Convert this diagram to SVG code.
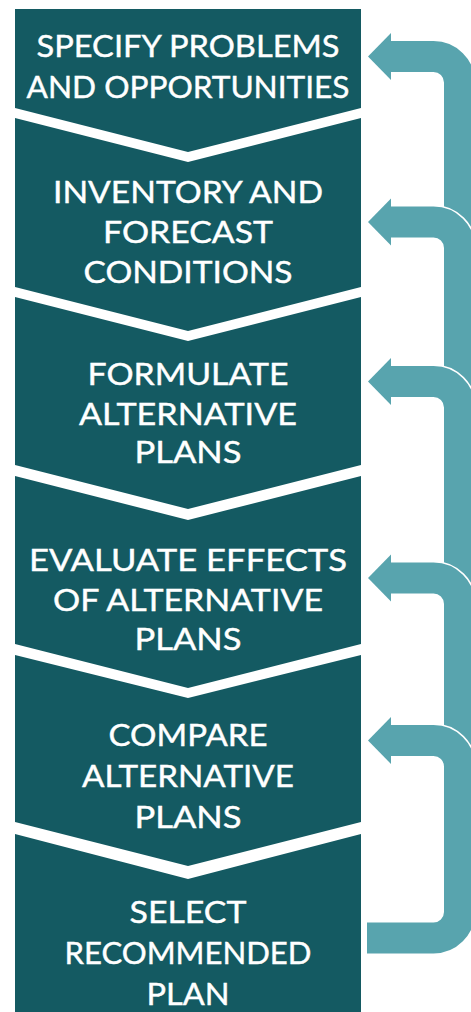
<svg xmlns="http://www.w3.org/2000/svg" width="471" height="1012" viewBox="0 0 471 1012">
  <style>
    .box { fill: #145a62; }
    .lbl { fill: #ffffff; stroke: #ffffff; stroke-width: 0.4; font-family: "Lato", "Liberation Sans", sans-serif; font-size: 30px; text-anchor: middle; }
    .halo { fill: none; stroke: #ffffff; stroke-width: 34; }
    .shaft { fill: none; stroke: #58a4ae; stroke-width: 31; }
    .head { fill: #58a4ae; }
  </style>
  <rect width="471" height="1012" fill="#ffffff"/>

  <g id="connectors">
    <g id="arrow1">
      <path class="halo" d="M390 56.5 H433.5 A26 26 0 0 1 459.5 82.5 V262"/>
      <path class="shaft" d="M390 56.5 H433.5 A26 26 0 0 1 459.5 82.5 V262"/>
      <polygon class="head" points="368,56.5 391,33 391,80"/>
    </g>
    <g id="arrow2">
      <path class="halo" d="M390 222 H433.5 A26 26 0 0 1 459.5 248 V422"/>
      <path class="shaft" d="M390 222 H433.5 A26 26 0 0 1 459.5 248 V422"/>
      <polygon class="head" points="368,222 391,198.5 391,245.5"/>
    </g>
    <g id="arrow3">
      <path class="halo" d="M390 381.5 H433.5 A26 26 0 0 1 459.5 407.5 V618"/>
      <path class="shaft" d="M390 381.5 H433.5 A26 26 0 0 1 459.5 407.5 V618"/>
      <polygon class="head" points="368,381.5 391,358 391,405"/>
    </g>
    <g id="arrow4">
      <path class="halo" d="M390 578 H433.5 A26 26 0 0 1 459.5 604 V780"/>
      <path class="shaft" d="M390 578 H433.5 A26 26 0 0 1 459.5 604 V780"/>
      <polygon class="head" points="368,578 391,554.5 391,601.5"/>
    </g>
    <g id="arrow5">
      <path class="halo" d="M390 740.5 H433.5 A26 26 0 0 1 459.5 766.5 V912 A26 26 0 0 1 433.5 938 H367"/>
      <path class="shaft" d="M390 740.5 H433.5 A26 26 0 0 1 459.5 766.5 V912 A26 26 0 0 1 433.5 938 H367"/>
      <polygon class="head" points="368,740.5 391,717 391,764"/>
    </g>
  </g>

  <g id="step1">
    <polygon class="box" points="15,9 361,9 361,108 188,152 15,108"/>
    <text class="lbl" x="188" y="57" textLength="303" lengthAdjust="spacingAndGlyphs">SPECIFY PROBLEMS</text>
    <text class="lbl" x="188" y="98" textLength="323" lengthAdjust="spacingAndGlyphs">AND OPPORTUNITIES</text>
  </g>
  <g id="step2">
    <polygon class="box" points="15,118 188,162 361,118 361,287 188,331 15,287"/>
    <text class="lbl" x="188" y="203" textLength="270" lengthAdjust="spacingAndGlyphs">INVENTORY AND</text>
    <text class="lbl" x="188" y="243" textLength="170" lengthAdjust="spacingAndGlyphs">FORECAST</text>
    <text class="lbl" x="188" y="283" textLength="209" lengthAdjust="spacingAndGlyphs">CONDITIONS</text>
  </g>
  <g id="step3">
    <polygon class="box" points="15,297 188,341 361,297 361,465 188,509 15,465"/>
    <text class="lbl" x="188" y="385" textLength="201" lengthAdjust="spacingAndGlyphs">FORMULATE</text>
    <text class="lbl" x="188" y="425" textLength="218" lengthAdjust="spacingAndGlyphs">ALTERNATIVE</text>
    <text class="lbl" x="188" y="463" textLength="107" lengthAdjust="spacingAndGlyphs">PLANS</text>
  </g>
  <g id="step4">
    <polygon class="box" points="15,476 188,520 361,476 361,644 188,688 15,644"/>
    <text class="lbl" x="188" y="571" textLength="318" lengthAdjust="spacingAndGlyphs">EVALUATE EFFECTS</text>
    <text class="lbl" x="188" y="611" textLength="270" lengthAdjust="spacingAndGlyphs">OF ALTERNATIVE</text>
    <text class="lbl" x="188" y="650" textLength="107" lengthAdjust="spacingAndGlyphs">PLANS</text>
  </g>
  <g id="step5">
    <polygon class="box" points="15,655 188,698 361,655 361,822 188,866 15,822"/>
    <text class="lbl" x="188" y="746" textLength="159" lengthAdjust="spacingAndGlyphs">COMPARE</text>
    <text class="lbl" x="188" y="787" textLength="212" lengthAdjust="spacingAndGlyphs">ALTERNATIVE</text>
    <text class="lbl" x="188" y="828" textLength="107" lengthAdjust="spacingAndGlyphs">PLANS</text>
  </g>
  <g id="step6">
    <polygon class="box" points="15,834 188,879 361,834 361,1012 15,1012"/>
    <text class="lbl" x="188" y="923" textLength="117" lengthAdjust="spacingAndGlyphs">SELECT</text>
    <text class="lbl" x="188" y="964" textLength="247" lengthAdjust="spacingAndGlyphs">RECOMMENDED</text>
    <text class="lbl" x="188" y="1005" textLength="83" lengthAdjust="spacingAndGlyphs">PLAN</text>
  </g>
</svg>
